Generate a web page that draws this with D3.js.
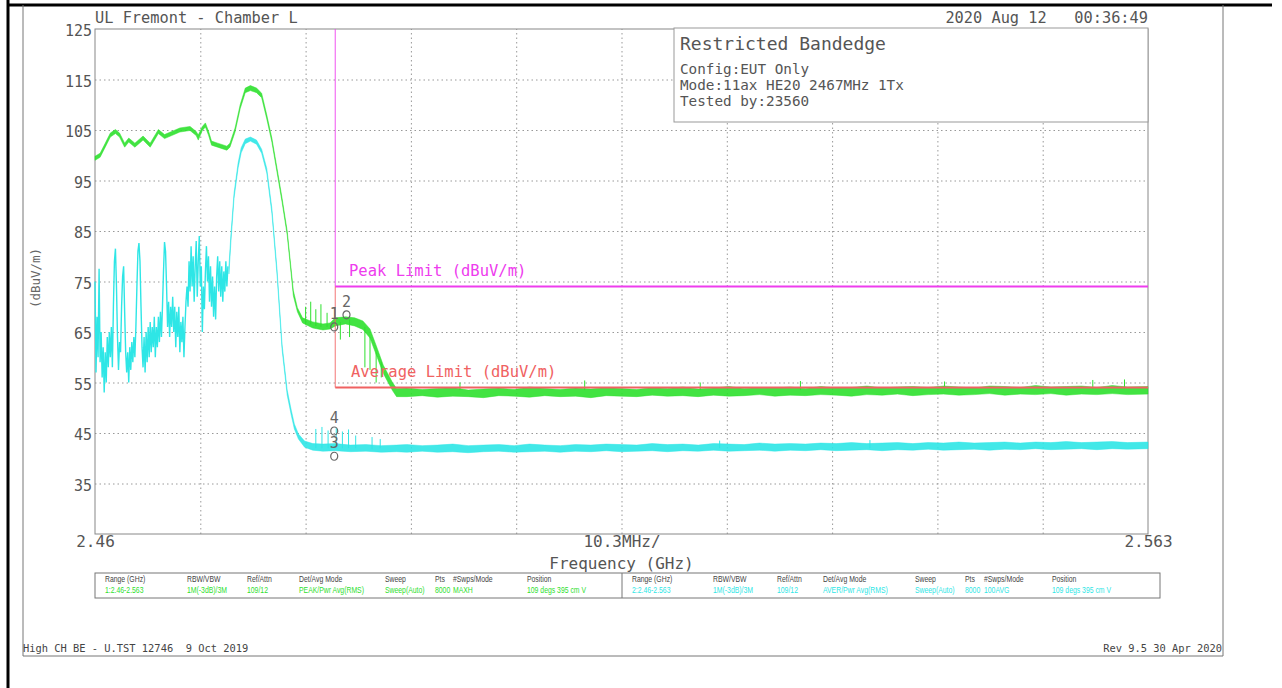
<!DOCTYPE html>
<html>
<head>
<meta charset="utf-8">
<script src="https://cdn.jsdelivr.net/npm/d3@7"></script>
<style>
body{margin:0;background:#fff}
svg{display:block}
text{font-family:"DejaVu Sans Mono",monospace;white-space:pre}
</style>
</head>
<body>
<svg id="chart" width="1282" height="688"></svg>
<script>
// axis ticks
const yTicks = [125,115,105,95,85,75,65,55,45,35];
const xTickValues = [2.46, 2.5115, 2.563];
const xTickLabels = ["2.46","10.3MHz/","2.563"];

// limits (GHz, dBuV/m)
const peakLimit = [[2.4835,125],[2.4835,74],[2.563,74]];
const avgLimit = [[2.4835,74],[2.4835,54],[2.563,54]];

// peak trace (green): [GHz, low, high]
const peakTrace = [
[2.4600,99.0,99.8],[2.4605,99.6,100.4],[2.4610,101.6,102.4],[2.4615,103.6,104.4],[2.4620,104.3,105.1],
[2.4624,103.6,104.4],[2.4629,101.6,102.4],[2.4633,102.6,103.4],[2.4639,101.6,102.4],[2.4647,103.0,103.8],
[2.4654,101.6,102.4],[2.4662,104.3,105.1],[2.4668,103.3,104.1],[2.4675,103.9,104.7],[2.4683,104.6,105.4],
[2.4693,104.9,105.7],[2.4699,103.9,104.7],[2.4701,103.0,104.0],[2.4705,104.9,105.7],[2.4708,105.6,106.4],
[2.4711,104.0,104.8],[2.4714,102.0,102.8],[2.4720,101.6,102.4],[2.4729,101.0,101.8],[2.4732,101.6,102.4],
[2.4737,104.6,105.4],[2.4742,109.2,110.0],[2.4747,112.4,113.3],[2.4752,112.8,113.8],[2.4758,112.4,113.3],
[2.4763,111.4,112.3],[2.4768,107.2,108.0],[2.4773,102.6,103.4],[2.4778,96.7,97.5],[2.4783,90.7,91.5],
[2.4788,84.2,85.0],[2.4791,78.3,79.1],[2.4794,72.2,73.2],[2.4798,69.0,69.8],[2.4803,66.8,67.8],
[2.4813,65.8,67.0],[2.4823,65.4,66.6],[2.4830,65.6,66.8],[2.4835,66.2,67.8],[2.4845,66.6,68.0],
[2.4854,66.2,67.8],[2.4862,65.5,67.2],[2.4869,63.8,65.6],[2.4876,60.0,61.8],[2.4882,56.8,58.4],
[2.4891,53.4,55.0],[2.4895,52.2,53.8],[2.4905,52.2,53.9],[2.4920,52.4,53.6],[2.4935,52.1,53.8],
[2.4950,52.3,54.0],[2.4965,52.2,53.5],[2.4980,52.0,53.7],[2.4995,52.4,53.9],[2.5010,52.3,53.6],
[2.5025,52.1,54.1],[2.5040,52.4,53.8],[2.5055,52.2,53.6],[2.5070,52.3,53.9],[2.5085,52.0,53.7],
[2.5100,52.4,54.0],[2.5115,52.3,53.8],[2.5130,52.2,53.6],[2.5145,52.5,54.0],[2.5160,52.3,53.8],
[2.5175,52.4,54.1],[2.5190,52.2,53.7],[2.5205,52.5,53.9],[2.5220,52.3,54.2],[2.5235,52.4,53.8],
[2.5250,52.6,54.0],[2.5265,52.3,53.9],[2.5280,52.5,54.1],[2.5295,52.4,53.8],[2.5310,52.6,54.2],
[2.5325,52.5,53.9],[2.5340,52.3,54.0],[2.5355,52.6,54.3],[2.5370,52.5,53.9],[2.5385,52.7,54.1],
[2.5400,52.4,54.2],[2.5415,52.6,54.0],[2.5430,52.7,54.3],[2.5445,52.5,54.1],[2.5460,52.6,53.9],
[2.5475,52.8,54.3],[2.5490,52.5,54.2],[2.5505,52.7,54.0],[2.5520,52.6,54.4],[2.5535,52.8,54.1],
[2.5550,52.5,54.2],[2.5565,52.7,54.3],[2.5580,52.6,54.0],[2.5595,52.8,54.4],[2.5610,52.6,54.1],
[2.5630,52.7,54.2]
];
const peakSpikes = [
[2.4806,66.5,70.0],[2.4811,66.5,71.0],[2.4816,66.2,69.5],[2.4821,66.0,70.5],[2.4827,66.0,68.8],
[2.4840,63.5,67.0],[2.4849,64.0,67.5],[2.4864,58.0,66.0],[2.4869,57.5,64.0],[2.4875,55.0,61.0],
[2.4880,56.0,59.0],[2.4957,53.5,55.0],[2.5079,53.5,55.4],[2.5192,53.5,55.0],[2.5290,53.5,55.3],
[2.5431,53.8,55.2],[2.5576,53.8,55.5],[2.5607,53.8,55.6]
];

// average trace (cyan): spiky start sampled every 0.1 MHz from 2.46 GHz
const avgSpikyStart = 2.46;
const avgSpikyStep = 0.0001;
const avgSpiky = [
75,57,68,60,77.5,59,65,56,62,53, 61,55,64,58,65,60,66,58,70,79,
81.5,74,64,57.5,63,61,70,76,78,69, 61,57,61,55,62,57.5,63,59,64,60,
66,74,81,82.6,79,70,62,58,64,57, 65,59,66,60,67,61,66,62,68,60,
66,62,68,63,69,64,70,77,82.8,81, 74,66,71,64,70,66,72,65,70,62,
69,64,70,61,67,63,68,60,66,71, 74,70,79,73,82,74,80,71,78,83,
72,79,84,74,78,65,74,69.5,77,82, 75,80,71,78,70,76,68,74,67.5,76,
80,73,79,72,78,71,77,73,79,74, 78
];
const avgTrace = [
[2.4731,76.5,78.0],[2.4733,83.0,84.5],[2.4736,91.5,92.5],[2.4740,97.5,98.5],[2.4743,100.5,101.5],
[2.4747,102.3,103.2],[2.4752,102.8,103.6],[2.4758,102.2,103.0],[2.4763,100.4,101.2],[2.4768,96.5,97.4],
[2.4773,88.5,89.5],[2.4778,76.5,77.5],[2.4783,61.5,62.5],[2.4788,52.5,53.5],[2.4792,48.5,49.5],
[2.4795,45.8,46.8],[2.4799,43.8,44.8],[2.4805,42.2,43.4],[2.4813,41.6,42.9],[2.4823,41.4,42.8],
[2.4835,41.5,42.9],[2.4850,41.3,42.6],[2.4865,41.4,42.7],[2.4880,41.2,42.5],[2.4895,41.3,42.6],
[2.4905,41.2,42.7],[2.4920,41.4,42.5],[2.4935,41.2,42.6],[2.4950,41.3,42.8],[2.4965,41.1,42.5],
[2.4980,41.3,42.6],[2.4995,41.4,42.7],[2.5010,41.2,42.5],[2.5025,41.3,42.8],[2.5040,41.4,42.6],
[2.5055,41.2,42.5],[2.5070,41.4,42.7],[2.5085,41.3,42.6],[2.5100,41.5,42.8],[2.5115,41.3,42.7],
[2.5130,41.4,42.6],[2.5145,41.5,42.9],[2.5160,41.3,42.7],[2.5175,41.5,42.8],[2.5190,41.4,42.6],
[2.5205,41.6,42.9],[2.5220,41.4,42.8],[2.5235,41.5,42.7],[2.5250,41.6,43.0],[2.5265,41.4,42.8],
[2.5280,41.6,42.9],[2.5295,41.5,42.8],[2.5310,41.7,43.0],[2.5325,41.5,42.9],[2.5340,41.6,43.1],
[2.5355,41.7,42.9],[2.5370,41.5,43.0],[2.5385,41.7,43.1],[2.5400,41.6,42.9],[2.5415,41.8,43.1],
[2.5430,41.6,43.0],[2.5445,41.7,43.2],[2.5460,41.8,43.0],[2.5475,41.6,43.1],[2.5490,41.8,43.2],
[2.5505,41.7,43.0],[2.5520,41.9,43.2],[2.5535,41.7,43.1],[2.5550,41.8,43.3],[2.5565,41.9,43.1],
[2.5580,41.7,43.2],[2.5595,41.9,43.3],[2.5610,41.8,43.1],[2.5630,41.9,43.2]
];
const avgSpikes = [
[2.4816,42.0,45.8],[2.4822,42.0,46.2],[2.4828,42.0,45.5],[2.4836,42.0,46.0],[2.4842,42.0,45.3],
[2.4848,42.0,45.7],[2.4855,42.0,44.5],[2.4871,41.8,44.2],[2.4879,42.0,43.8],[2.5211,42.0,43.5],
[2.5358,42.0,43.6]
];

// markers
const markers = [
{id:"1", f:2.4834, v:66.0},
{id:"2", f:2.4846, v:68.4},
{id:"4", f:2.4834, v:45.4},
{id:"3", f:2.4834, v:40.4}
];

// texts
const headerLeft = "UL Fremont - Chamber L";
const headerRight = "2020 Aug 12   00:36:49";
const infoTitle = "Restricted Bandedge";
const infoLines = ["Config:EUT Only","Mode:11ax HE20 2467MHz 1Tx","Tested by:23560"];
const tableHead = ["Range (GHz)","RBW/VBW","Ref/Attn","Det/Avg Mode","Sweep","Pts","#Swps/Mode","Position"];
const tableRow1 = ["1:2.46-2.563","1M(-3dB)/3M","109/12","PEAK/Pwr Avg(RMS)","Sweep(Auto)","8000","MAXH","109 degs 395 cm V"];
const tableRow2 = ["2:2.46-2.563","1M(-3dB)/3M","109/12","AVER/Pwr Avg(RMS)","Sweep(Auto)","8000","100AVG","109 degs 395 cm V"];
const footLeft = "High CH BE - U.TST 12746  9 Oct 2019";
const footRight = "Rev 9.5 30 Apr 2020";

const green = "#2ee02e", cyan = "#2ee6e6", magenta = "#ee3cee", red = "#f06262", grey = "#555";

const svg = d3.select("#chart");
const L = 95, R = 1148, T = 29, B = 534;
const x = d3.scaleLinear().domain([2.46, 2.563]).range([L, R]);
const y = d3.scaleLinear().domain([25, 125]).range([B, T]);

// page frame
svg.append("line").attr("x1",8).attr("y1",0).attr("x2",8).attr("y2",688).attr("stroke","#000").attr("stroke-width",3);
svg.append("line").attr("x1",7).attr("y1",5).attr("x2",1272).attr("y2",5).attr("stroke","#000").attr("stroke-width",3);
svg.append("path").attr("d","M23,5V656H1223V5").attr("fill","none").attr("stroke","#777").attr("stroke-width",1);

// grid
const grid = svg.append("g");
grid.append("g").attr("transform",`translate(${L},0)`)
  .call(d3.axisLeft(y).tickValues(yTicks.filter(v => v < 125)).tickSize(-(R-L)).tickFormat(""))
  .call(g => g.select(".domain").remove())
  .selectAll("line").attr("stroke","#999").attr("stroke-dasharray","1.5,3");
grid.append("g").attr("transform",`translate(0,${B})`)
  .call(d3.axisBottom(x).tickValues(d3.range(1,10).map(i => 2.46 + i*0.0103)).tickSize(-(B-T)).tickFormat(""))
  .call(g => g.select(".domain").remove())
  .selectAll("line").attr("stroke","#999").attr("stroke-dasharray","1.5,3");
svg.append("rect").attr("x",L).attr("y",T).attr("width",R-L).attr("height",B-T)
  .attr("fill","none").attr("stroke","#888");

// axes labels
svg.append("g").attr("transform",`translate(${L},0)`)
  .call(d3.axisLeft(y).tickValues(yTicks).tickSize(0).tickPadding(3))
  .call(g => g.select(".domain").remove())
  .selectAll("text").attr("font-size",15).attr("fill",grey).attr("dy","0.45em")
  .style("font-family",'"DejaVu Sans Mono",monospace');
svg.append("g").attr("transform",`translate(0,${B})`)
  .call(d3.axisBottom(x).tickValues(xTickValues).tickFormat((d,i) => xTickLabels[i]).tickSize(0).tickPadding(2))
  .call(g => g.select(".domain").remove())
  .selectAll("text").attr("font-size",16).attr("fill",grey)
  .style("font-family",'"DejaVu Sans Mono",monospace');
svg.append("text").attr("x",(L+R)/2).attr("y",569).attr("text-anchor","middle")
  .attr("font-size",16).attr("fill",grey).text("Frequency (GHz)");
svg.append("text").attr("transform","translate(40,278) rotate(-90)").attr("text-anchor","middle")
  .attr("font-size",12.5).attr("fill","#666").text("(dBuV/m)");

// header
svg.append("text").attr("x",L).attr("y",23).attr("font-size",15.3).attr("fill",grey).text(headerLeft);
svg.append("text").attr("x",R).attr("y",23).attr("text-anchor","end").attr("font-size",15.3).attr("fill",grey).text(headerRight);

// info box
svg.append("rect").attr("x",674).attr("y",28).attr("width",R-674).attr("height",94)
  .attr("fill","#fff").attr("stroke","#999");
svg.append("text").attr("x",680).attr("y",50).attr("font-size",18).attr("fill",grey).text(infoTitle);
svg.selectAll(".info").data(infoLines).join("text").attr("class","info")
  .attr("x",680).attr("y",(d,i) => 74 + i*16).attr("font-size",14.3).attr("fill",grey).text(d => d);

// traces
const band = d3.area().x(d => x(d[0])).y0(d => y(d[1])).y1(d => y(d[2]));
const line = d3.line().x(d => x(d[0])).y(d => y(d[1]));

svg.append("path").datum(avgSpiky.map((v,i) => [avgSpikyStart + i*avgSpikyStep, v]))
  .attr("d",line).attr("fill","none").attr("stroke",cyan).attr("stroke-width",1.4);
svg.append("path").datum(avgTrace).attr("d",band)
  .attr("fill",cyan).attr("fill-opacity",0.9).attr("stroke",cyan).attr("stroke-width",0.5);
svg.selectAll(".cspike").data(avgSpikes).join("line").attr("class","cspike")
  .attr("x1",d => x(d[0])).attr("x2",d => x(d[0])).attr("y1",d => y(d[1])).attr("y2",d => y(d[2]))
  .attr("stroke",cyan).attr("stroke-width",1);

svg.append("path").datum(peakTrace).attr("d",band)
  .attr("fill",green).attr("fill-opacity",0.9).attr("stroke",green).attr("stroke-width",0.5);
svg.selectAll(".gspike").data(peakSpikes).join("line").attr("class","gspike")
  .attr("x1",d => x(d[0])).attr("x2",d => x(d[0])).attr("y1",d => y(d[1])).attr("y2",d => y(d[2]))
  .attr("stroke",green).attr("stroke-width",1);

// limits
[[peakLimit, magenta], [avgLimit, red]].forEach(([pts, col]) => {
  svg.append("path").datum(pts.slice(0,2)).attr("d",line).attr("fill","none")
    .attr("stroke",col).attr("stroke-width",1.1).attr("opacity",0.8);
  svg.append("path").datum(pts.slice(1)).attr("d",line).attr("fill","none")
    .attr("stroke",col).attr("stroke-width",2);
});
svg.append("text").attr("x",349).attr("y",y(74)-11).attr("font-size",15.5).attr("fill",magenta)
  .text("Peak Limit (dBuV/m)");
svg.append("text").attr("x",351).attr("y",y(54)-11).attr("font-size",15.5).attr("fill",red)
  .text("Average Limit (dBuV/m)");

// markers
const mk = svg.selectAll(".mk").data(markers).join("g").attr("class","mk")
  .attr("transform",d => `translate(${x(d.f)},${y(d.v)})`);
mk.append("ellipse").attr("rx",3.5).attr("ry",4).attr("fill","none").attr("stroke","#666").attr("stroke-width",1.2);
mk.append("text").attr("y",-8).attr("text-anchor","middle").attr("font-size",15).attr("fill","#666").text(d => d.id);

// settings table (condensed text)
svg.append("rect").attr("x",L).attr("y",573).attr("width",1065).attr("height",25)
  .attr("fill","none").attr("stroke","#777");
svg.append("line").attr("x1",622).attr("x2",622).attr("y1",573).attr("y2",598).attr("stroke","#777");
const col1 = [105,187,247,299,385,435,453,527];
const col2 = [632,713,777,823,915,965,984,1052];
const sx = 0.78;
const tbl = svg.append("g").attr("transform",`scale(${sx},1)`)
  .style("font-family",'"Liberation Sans",sans-serif');
[[col1, tableRow1, green], [col2, tableRow2, cyan]].forEach(([cols, row, colr]) => {
  tableHead.forEach((t,i) => tbl.append("text").attr("x",cols[i]/sx).attr("y",582)
    .attr("font-size",8.8).attr("fill","#444").style("font-family",'"Liberation Sans",sans-serif').text(t));
  row.forEach((t,i) => tbl.append("text").attr("x",cols[i]/sx).attr("y",593)
    .attr("font-size",8.8).attr("fill",colr).style("font-family",'"Liberation Sans",sans-serif').text(t));
});

// footer
svg.append("text").attr("x",23).attr("y",652).attr("font-size",10.4).attr("fill","#444").text(footLeft);
svg.append("text").attr("x",1222).attr("y",652).attr("text-anchor","end").attr("font-size",10.4).attr("fill","#444").text(footRight);
</script>
</body>
</html>
